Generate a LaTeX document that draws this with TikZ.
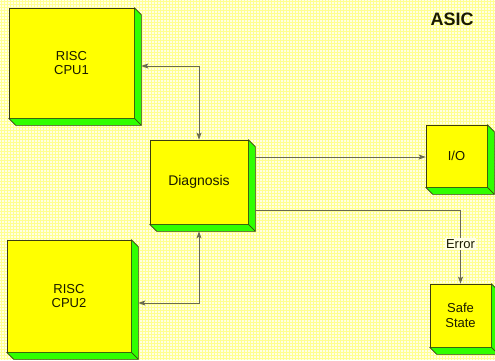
\documentclass[tikz,border=0pt]{standalone}
\usepackage{fontspec}
\setmainfont{Liberation Sans}
\usetikzlibrary{arrows.meta,calc}
\definecolor{bgc}{HTML}{FFFFE4}
\definecolor{gridc}{HTML}{FFFF90}
\definecolor{facec}{HTML}{FFFF00}
\definecolor{sidec}{HTML}{30FF00}
\definecolor{edgec}{HTML}{3C3C10}
\definecolor{linec}{HTML}{6A6A50}
\definecolor{textc}{HTML}{1A1A00}
\tikzset{
  boxface/.style={draw=edgec,line width=0.6pt,fill=facec,inner sep=0pt,
    align=center,text=textc,font=\fontsize{13}{14.5}\selectfont},
  boxside/.style={draw=edgec,line width=0.6pt,fill=sidec,line join=round},
  conn/.style={draw=linec,line width=1pt},
  tip/.style={-{Stealth[length=7pt,width=5pt,inset=1.5pt]}},
  tips/.style={{Stealth[length=7pt,width=5pt,inset=1.5pt]}-{Stealth[length=7pt,width=5pt,inset=1.5pt]}},
  lbl/.style={font=\fontsize{13}{14}\selectfont,text=textc,fill=bgc,inner sep=1.5pt}
}
\newcommand{\extrude}[1]{%
  \path[boxside] (#1.north east) -- ++(7,7) -- ($(#1.south east)+(7,7)$) -- (#1.south east) -- cycle;
  \path[boxside] (#1.south west) -- (#1.south east) -- ++(7,7) -- ($(#1.south west)+(7,7)$) -- cycle;
}
\begin{document}
\begin{tikzpicture}[x=1pt,y=-1pt]
\useasboundingbox (0,0) rectangle (495,360);
\fill[bgc] (0,0) rectangle (495,360);
\foreach \x in {1,4,...,495} \draw[gridc,line width=1pt] (\x,0) -- (\x,360);
\foreach \y in {1,4,...,360} \draw[gridc,line width=1pt] (0,\y) -- (495,\y);

\node[boxface,minimum width=125pt,minimum height=110pt] (cpu1) at (71.5,63) {RISC\\CPU1};
\node[boxface,minimum width=98pt,minimum height=84pt,font=\fontsize{14}{16}\selectfont] (diag) at (199,182) {Diagnosis};
\node[boxface,minimum width=61pt,minimum height=62pt] (io) at (456.5,156) {I/O};
\node[boxface,minimum width=61pt,minimum height=63pt] (safe) at (460.5,315.5) {Safe\\State};
\node[boxface,minimum width=124pt,minimum height=112pt] (cpu2) at (69,296) {RISC\\CPU2};
\extrude{cpu1}
\extrude{diag}
\extrude{io}
\extrude{safe}
\extrude{cpu2}

\node[font=\bfseries\fontsize{18}{20}\selectfont,text=textc] (asic) at (452,19) {ASIC};

\coordinate (c1) at ($(cpu1.east)+(7,3)$);
\draw[conn,tips] (c1) -| (diag.north);
\coordinate (c2) at ($(cpu2.east)+(7,7)$);
\coordinate (d2) at ($(diag.south)+(0,7)$);
\draw[conn,tips] (d2) |- (c2);
\coordinate (d3) at ($(diag.east)+(7,-25)$);
\draw[conn,tip] (d3) -- (d3 -| io.west);
\coordinate (d4) at ($(diag.east)+(7,28)$);
\draw[conn,tip] (d4) -| node[lbl,pos=0.73] (err) {Error} (safe.north);
\end{tikzpicture}
\end{document}
